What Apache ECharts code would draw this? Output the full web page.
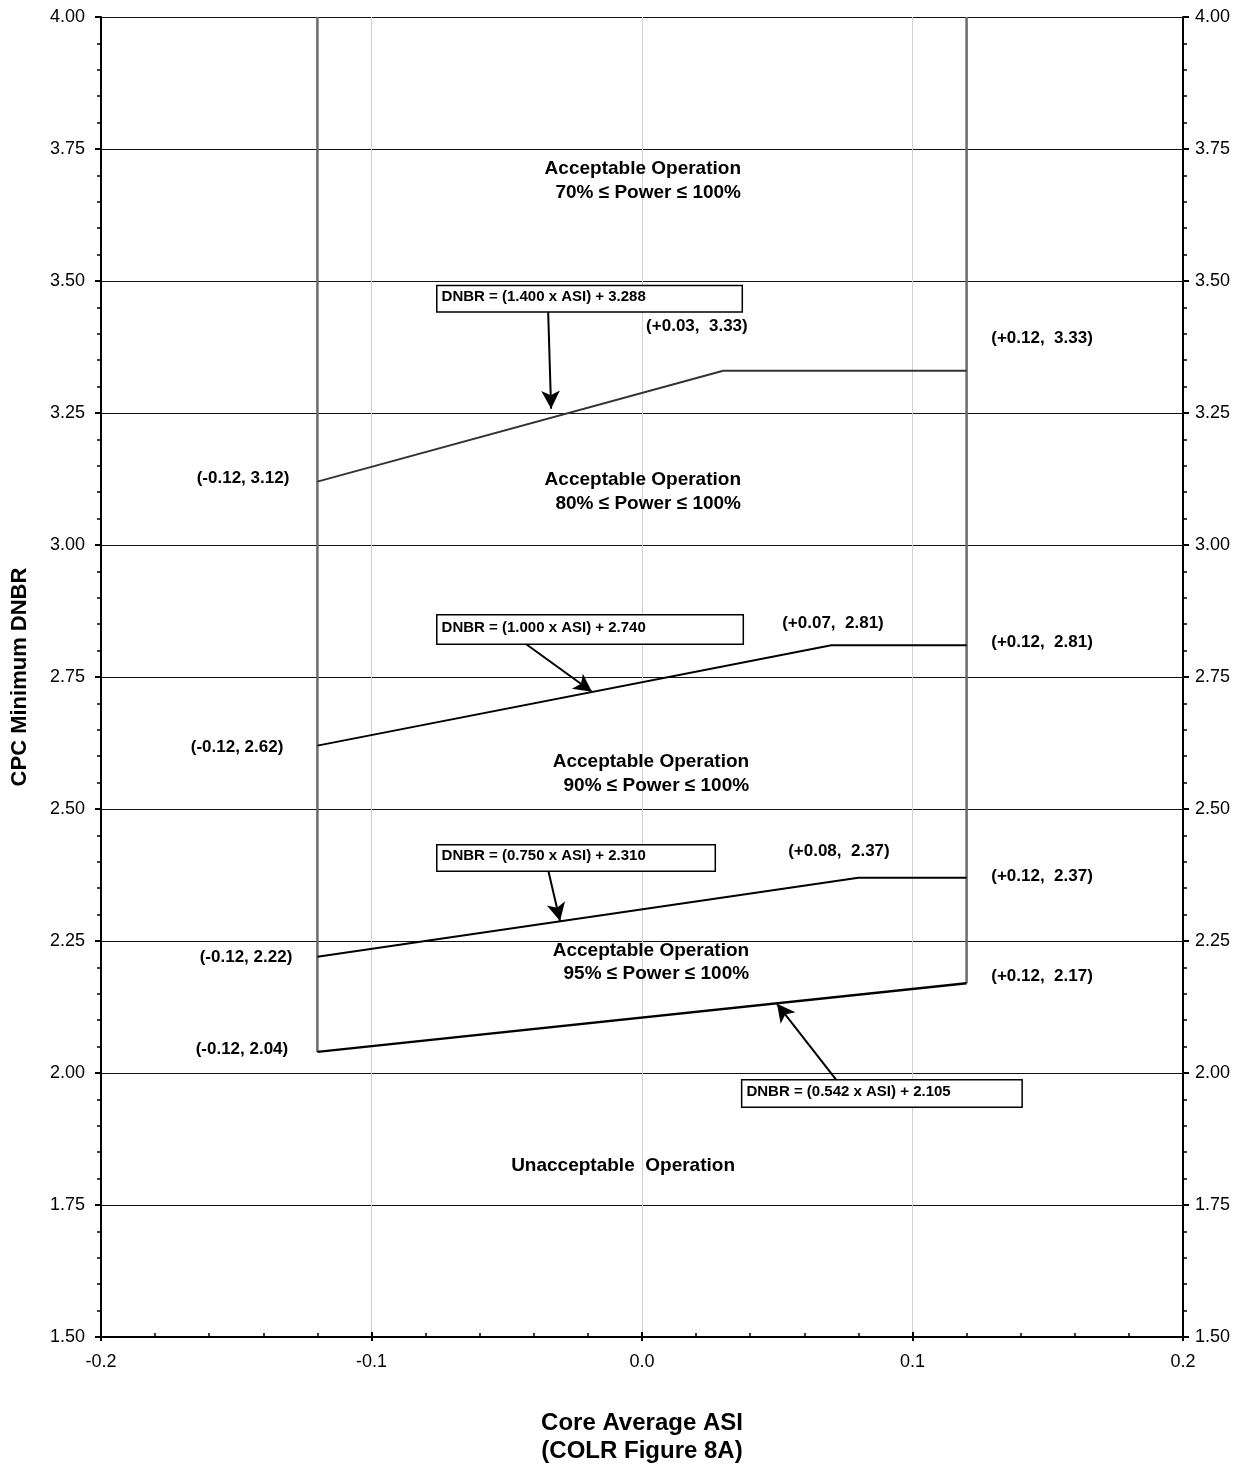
<!DOCTYPE html>
<html>
<head>
<meta charset="utf-8">
<script src="https://cdn.jsdelivr.net/npm/echarts@6/dist/echarts.min.js"></script>
<style>
  html, body { margin: 0; padding: 0; background: #fff; }
  #chart { width: 1247px; height: 1472px; }
</style>
</head>
<body>
<div id="chart"></div>
<script>
// limit lines (ASI, DNBR)
const leftLimit = [[-0.12, 2.04], [-0.12, 4.00]]
const rightLimit = [[0.12, 2.17], [0.12, 4.00]]
const line70 = [[-0.12, 3.12], [0.03, 3.33], [0.12, 3.33]]
const line80 = [[-0.12, 2.62], [0.07, 2.81], [0.12, 2.81]]
const line90 = [[-0.12, 2.22], [0.08, 2.37], [0.12, 2.37]]
const line95 = [[-0.12, 2.04], [0.12, 2.17]]

// point labels: text, anchor x, anchor y (centre)
const pointLabels = [
  ['(+0.03,  3.33)', 0.0203, 3.415],
  ['(+0.12,  3.33)', 0.1479, 3.392],
  ['(-0.12, 3.12)', -0.1475, 3.127],
  ['(+0.07,  2.81)', 0.0706, 2.852],
  ['(+0.12,  2.81)', 0.1479, 2.816],
  ['(-0.12, 2.62)', -0.1497, 2.617],
  ['(+0.08,  2.37)', 0.0728, 2.419],
  ['(+0.12,  2.37)', 0.1479, 2.373],
  ['(-0.12, 2.22)', -0.1464, 2.220],
  ['(+0.12,  2.17)', 0.1479, 2.184],
  ['(-0.12, 2.04)', -0.1479, 2.044]
]

// region labels: text, right edge x, y
const regionLabels = [
  ['Acceptable Operation', 0.0366, 3.712],
  ['70% ≤ Power ≤ 100%', 0.0366, 3.667],
  ['Acceptable Operation', 0.0366, 3.123],
  ['80% ≤ Power ≤ 100%', 0.0366, 3.078],
  ['Acceptable Operation', 0.0396, 2.589],
  ['90% ≤ Power ≤ 100%', 0.0396, 2.544],
  ['Acceptable Operation', 0.0396, 2.231],
  ['95% ≤ Power ≤ 100%', 0.0396, 2.1875]
]
const unacceptLabel = ['Unacceptable  Operation', -0.007, 1.824]

// equation boxes: text, top-left x, top-left y, box width, box height
const eqBoxes = [
  ['DNBR = (1.400 x ASI) + 3.288', -0.0754, 3.489, 304, 25],
  ['DNBR = (1.000 x ASI) + 2.740', -0.0754, 2.8655, 305, 28],
  ['DNBR = (0.750 x ASI) + 2.310', -0.0754, 2.430, 277, 25],
  ['DNBR = (0.542 x ASI) + 2.105', 0.0373, 1.985, 279, 26]
]
// arrows from box to line
const eqArrows = [
  [[-0.0347, 3.443], [-0.0336, 3.258]],
  [[-0.0433, 2.814], [-0.0185, 2.722]],
  [[-0.0347, 2.3845], [-0.0303, 2.288]],
  [[0.0721, 1.985], [0.0499, 2.131]]
]

const font = "'Liberation Sans', Arial, sans-serif"
const chart = echarts.init(document.getElementById('chart'))

function limitSeries(data, color, width) {
  return {
    type: 'line',
    data: data,
    symbol: 'none',
    silent: true,
    lineStyle: { color: color, width: width },
    z: 3
  }
}

const hidden = { color: 'rgba(0,0,0,0)', opacity: 1 }

chart.setOption({
  animation: false,
  grid: { left: 101, right: 64, top: 17, bottom: 135 },
  xAxis: [{
    type: 'value',
    min: -0.2,
    max: 0.2,
    interval: 0.1,
    position: 'bottom',
    name: 'Core Average ASI\n(COLR Figure 8A)',
    nameLocation: 'middle',
    nameGap: 72,
    nameTextStyle: { fontFamily: font, fontSize: 24, fontWeight: 'bold', color: '#000', lineHeight: 28 },
    axisLine: { onZero: false, lineStyle: { color: '#000', width: 2 } },
    axisTick: { inside: true, length: 5, lineStyle: { color: '#000', width: 2 } },
    minorTick: { show: true, splitNumber: 5, length: 4, lineStyle: { color: '#000', width: 1.5 } },
    axisLabel: { formatter: v => v.toFixed(1), fontFamily: font, fontSize: 18, color: '#000', margin: 16 },
    splitLine: { show: true, lineStyle: { color: '#d0d0d0', width: 1 } }
  }, {
    type: 'value',
    min: -0.2,
    max: 0.2,
    interval: 0.1,
    position: 'bottom',
    axisLine: { show: false, onZero: false },
    axisTick: { inside: false, length: 4, lineStyle: { color: '#000', width: 2 } },
    axisLabel: { show: false },
    splitLine: { show: false }
  }],
  yAxis: [{
    type: 'value',
    min: 1.5,
    max: 4.0,
    interval: 0.25,
    position: 'left',
    name: 'CPC Minimum DNBR',
    nameLocation: 'middle',
    nameGap: 70,
    nameTextStyle: { fontFamily: font, fontSize: 22, fontWeight: 'bold', color: '#000' },
    axisLine: { show: true, onZero: false, lineStyle: { color: '#000', width: 2 } },
    axisTick: { show: true, length: 6, lineStyle: { color: '#000', width: 2 } },
    minorTick: { show: true, splitNumber: 5, length: 4, lineStyle: { color: '#000', width: 1.5 } },
    axisLabel: { formatter: v => v.toFixed(2), fontFamily: font, fontSize: 18, color: '#000', margin: 16 },
    splitLine: { show: true, lineStyle: { color: '#111', width: 1 } }
  }, {
    type: 'value',
    min: 1.5,
    max: 4.0,
    interval: 0.25,
    position: 'right',
    axisLine: { show: true, onZero: false, lineStyle: { color: '#000', width: 2 } },
    axisTick: { show: true, length: 6, lineStyle: { color: '#000', width: 2 } },
    minorTick: { show: true, splitNumber: 5, length: 4, lineStyle: { color: '#000', width: 1.5 } },
    axisLabel: { formatter: v => v.toFixed(2), fontFamily: font, fontSize: 18, color: '#000', margin: 12 },
    splitLine: { show: false }
  }],
  series: [
    limitSeries(leftLimit, '#6b6b6b', 2.5),
    limitSeries(rightLimit, '#6b6b6b', 2.5),
    limitSeries(line70, '#333', 2),
    limitSeries(line80, '#000', 2),
    limitSeries(line90, '#000', 2),
    Object.assign(limitSeries(line95, '#000', 2.5), {
      markLine: {
        silent: true,
        symbol: ['none', 'arrow'],
        symbolSize: [14, 18],
        label: { show: false },
        lineStyle: { color: '#000', width: 2, type: 'solid' },
        data: eqArrows.map(a => [{ coord: a[0] }, { coord: a[1] }])
      }
    }),
    {
      type: 'scatter',
      silent: true,
      symbolSize: 1,
      itemStyle: hidden,
      z: 5,
      label: {
        show: true,
        position: 'inside',
        fontFamily: font,
        fontSize: 17,
        fontWeight: 'bold',
        color: '#000'
      },
      data: pointLabels.map(p => ({ value: [p[1], p[2]], label: { formatter: p[0] } }))
    },
    {
      type: 'scatter',
      silent: true,
      symbolSize: 1,
      itemStyle: hidden,
      z: 5,
      label: {
        show: true,
        position: 'inside',
        align: 'right',
        fontFamily: font,
        fontSize: 19,
        fontWeight: 'bold',
        color: '#000'
      },
      data: regionLabels.map(p => ({ value: [p[1], p[2]], label: { formatter: p[0] } }))
        .concat([{ value: [unacceptLabel[1], unacceptLabel[2]], label: { formatter: unacceptLabel[0], align: 'center' } }])
    },
    {
      type: 'scatter',
      silent: true,
      symbolSize: 1,
      itemStyle: hidden,
      z: 6,
      data: eqBoxes.map(b => ({
        value: [b[1], b[2]],
        label: {
          show: true,
          position: [0, 0],
          align: 'left',
          verticalAlign: 'top',
          formatter: b[0],
          fontFamily: font,
          fontSize: 15,
          fontWeight: 'bold',
          color: '#000',
          backgroundColor: '#fff',
          borderColor: '#000',
          borderWidth: 1.5,
          padding: [4, 4],
          width: b[3] - 8,
          height: b[4] - 8,
          lineHeight: b[4] - 12
        }
      }))
    }
  ]
})
</script>
</body>
</html>
